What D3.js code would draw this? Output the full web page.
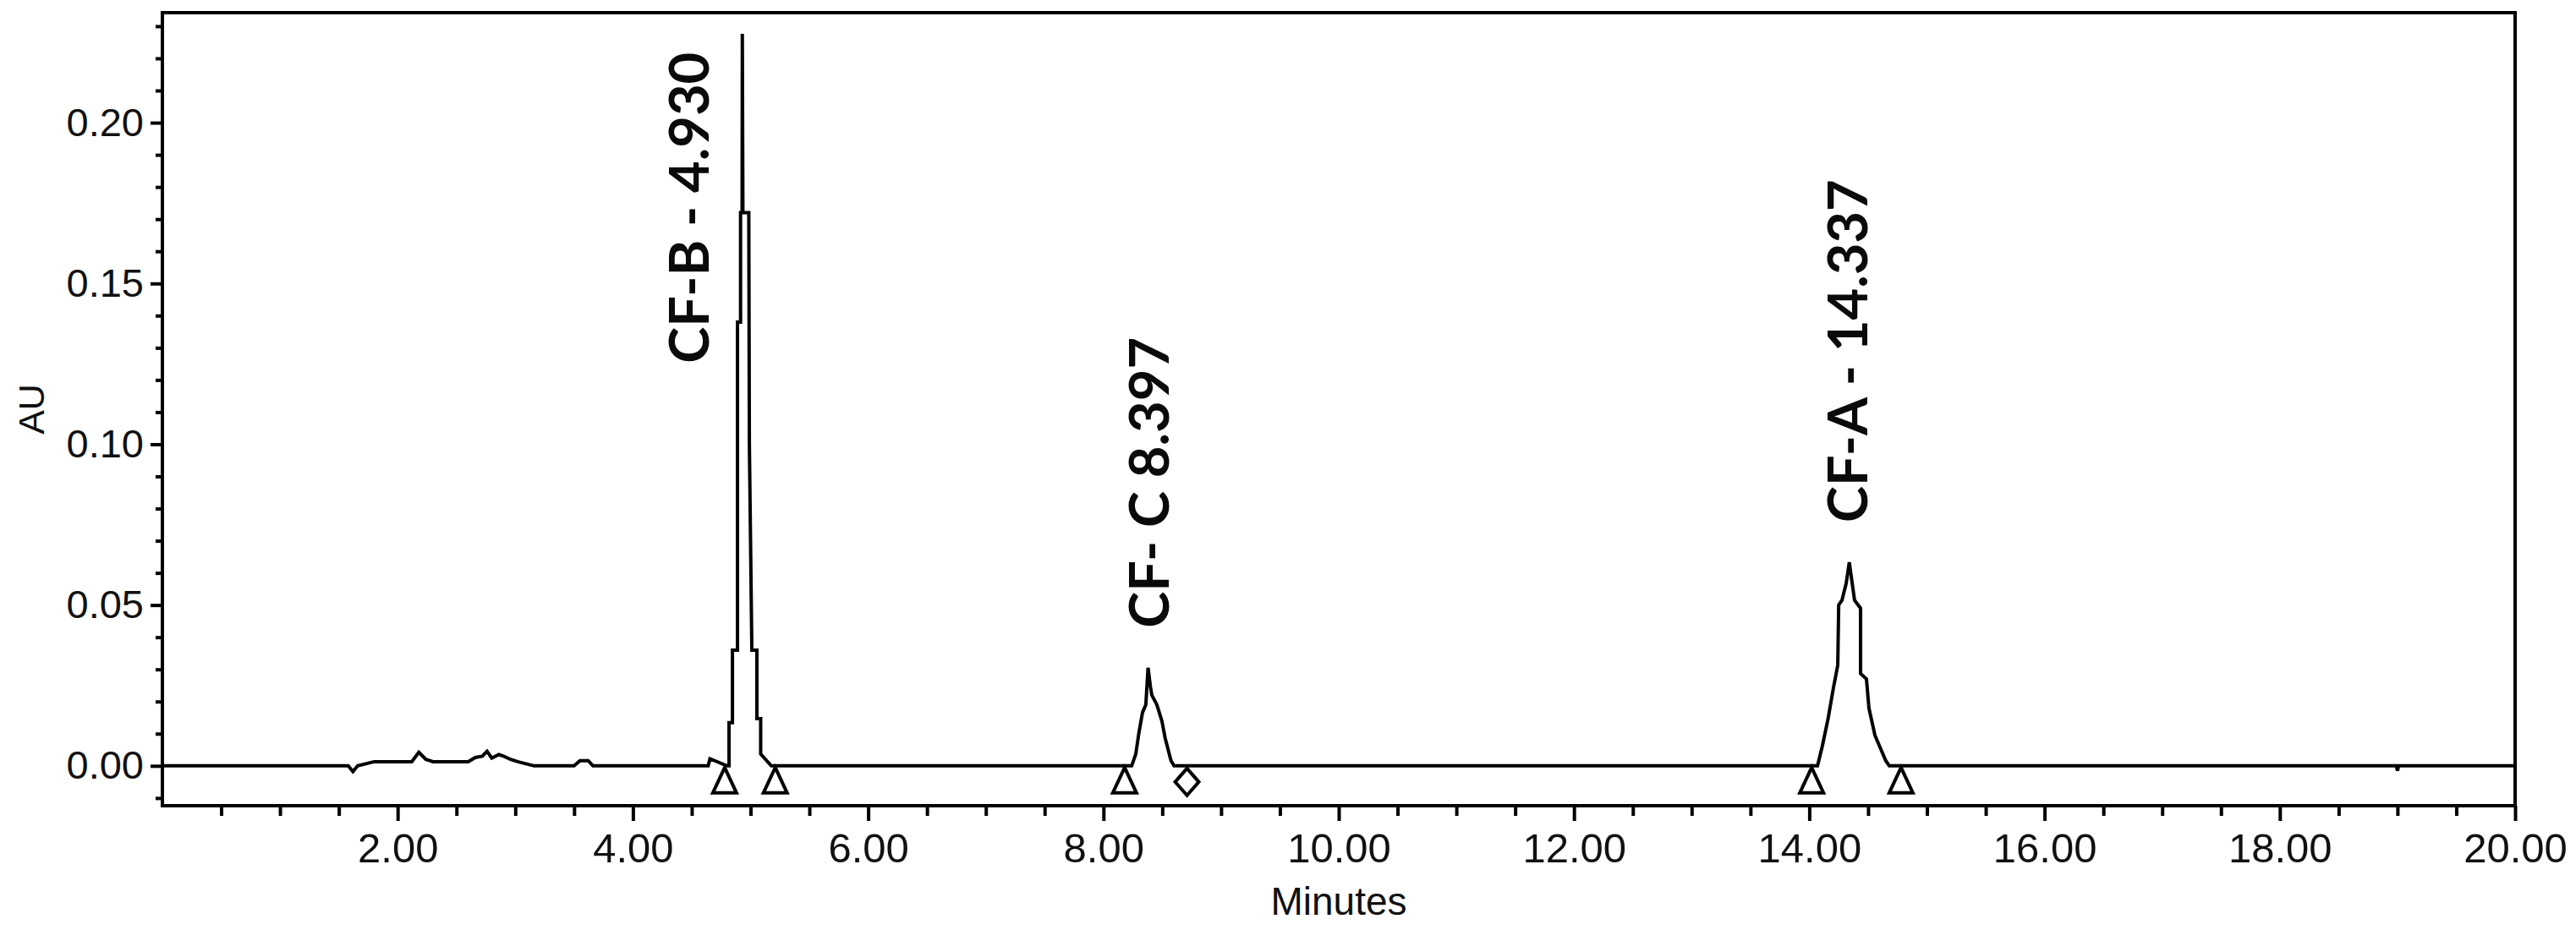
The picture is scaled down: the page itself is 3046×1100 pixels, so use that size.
<!DOCTYPE html>
<html>
<head>
<meta charset="utf-8">
<script src="https://cdn.jsdelivr.net/npm/d3@7"></script>
<style>
  body { margin: 0; background: #fff; }
  svg { display: block; }
</style>
</head>
<body>
<div id="chart"></div>
<script>
// trace (minutes, AU)
var timeMin = [0, 1.58, 1.62, 1.66, 1.80, 2.12, 2.18, 2.24, 2.30, 2.60, 2.66, 2.72, 2.76, 2.80, 2.86, 2.90, 2.96, 3.02, 3.16, 3.50,
  3.55, 3.62, 3.66, 4.64, 4.655, 4.80, 4.817, 4.817, 4.846, 4.846, 4.889, 4.889, 4.915, 4.915, 4.928, 4.93, 4.935, 4.985, 4.99, 5.011,
  5.054, 5.054, 5.086, 5.086, 5.176, 8.24, 8.275, 8.30, 8.332, 8.36, 8.379, 8.40, 8.411, 8.454, 8.497, 8.524, 8.574, 8.60,
  14.07, 14.11, 14.16, 14.206, 14.242, 14.25, 14.278, 14.314, 14.34, 14.36, 14.385, 14.436, 14.436, 14.486, 14.507, 14.558,
  14.65, 14.68, 18.99, 19.00, 19.01, 20.00];
var au = [0, 0, -0.0018, 0, 0.0013, 0.0013, 0.0042, 0.0020, 0.0013, 0.0013, 0.0026, 0.0030, 0.0045, 0.0024, 0.0035, 0.0030, 0.0020, 0.0013, 0, 0,
  0.0016, 0.0016, 0, 0, 0.0022, 0, 0, 0.0134, 0.0134, 0.036, 0.036, 0.138, 0.138, 0.172, 0.172, 0.2276, 0.172, 0.172, 0.10, 0.036,
  0.036, 0.0147, 0.0147, 0.0037, 0, 0, 0.0037, 0.010, 0.0166, 0.019, 0.0305, 0.0244, 0.022, 0.019, 0.0139, 0.0087, 0.0016, 0,
  0, 0.006, 0.0147, 0.0244, 0.0313, 0.0500, 0.0515, 0.0568, 0.0633, 0.058, 0.0515, 0.049, 0.0287, 0.027, 0.018, 0.0095,
  0.0016, 0, 0, -0.0015, 0, 0];

var peakNames = ["CF-B - 4.930", "CF- C 8.397", "CF-A - 14.337"];
var peakTimes = [4.930, 8.397, 14.337];

var markerTimes = [4.78, 5.21, 8.18, 8.71, 14.02, 14.78];
var markerShapes = ["triangle", "triangle", "triangle", "diamond", "triangle", "triangle"];

var xMajor = [2, 4, 6, 8, 10, 12, 14, 16, 18, 20];
var yMajor = [0, 0.05, 0.10, 0.15, 0.20];

drawChart();

function drawChart() {

var W = 3046, H = 1100;
var padL = 192, padR = 2974, padT = 15, padB = 953;

var svg = d3.select("#chart").append("svg")
  .attr("width", W)
  .attr("height", H);

var x = d3.scaleLinear().domain([0, 20]).range([padL, padR]);
var y = d3.scaleLinear().domain([-0.0124, 0.2342]).range([padB, padT]);

var trace = timeMin.map(function(t, i) { return [t, au[i]]; });

// minor ticks
var xMinor = d3.range(0.5, 20, 0.5).filter(function(t) { return t % 2 != 0; });
var yMinor = d3.range(-1, 24).map(function(d) { return d / 100; })
  .filter(function(v) { return Math.abs(v * 20 - Math.round(v * 20)) > 1e-6; });

svg.append("g")
  .attr("transform", "translate(0," + padB + ")")
  .call(d3.axisBottom(x).tickValues(xMinor).tickSize(12).tickFormat(""))
  .call(function(g) { g.select(".domain").remove(); });

svg.append("g")
  .attr("transform", "translate(0," + padB + ")")
  .call(d3.axisBottom(x).tickValues(xMajor).tickSize(18).tickPadding(14).tickFormat(d3.format(".2f")))
  .call(function(g) { g.select(".domain").remove(); })
  .selectAll("text")
  .style("font-family", "'Liberation Sans', Arial, sans-serif")
  .style("font-size", "49px")
  .attr("fill", "#111");

svg.append("g")
  .attr("transform", "translate(" + padL + ",0)")
  .call(d3.axisLeft(y).tickValues(yMinor).tickSize(8).tickFormat(""))
  .call(function(g) { g.select(".domain").remove(); });

svg.append("g")
  .attr("transform", "translate(" + padL + ",0)")
  .call(d3.axisLeft(y).tickValues(yMajor).tickSize(14).tickPadding(8).tickFormat(d3.format(".2f")))
  .call(function(g) { g.select(".domain").remove(); })
  .selectAll("text")
  .style("font-family", "'Liberation Sans', Arial, sans-serif")
  .style("font-size", "47px")
  .attr("fill", "#111");

svg.selectAll(".tick line")
  .attr("stroke", "#000")
  .attr("stroke-width", 4);

// frame
svg.append("rect")
  .attr("x", padL)
  .attr("y", padT)
  .attr("width", padR - padL)
  .attr("height", padB - padT)
  .attr("fill", "none")
  .attr("stroke", "#000")
  .attr("stroke-width", 4);

// the chromatogram
var line = d3.line()
  .x(function(d) { return x(d[0]); })
  .y(function(d) { return y(d[1]); });

svg.append("path")
  .datum(trace)
  .attr("d", line)
  .attr("fill", "none")
  .attr("stroke", "#000")
  .attr("stroke-width", 4)
  .attr("stroke-linejoin", "miter");

// peak start / end markers
function markerPath(shape) {
  var p = d3.path();
  if (shape == "triangle") {
    p.moveTo(0, 0); p.lineTo(-14, 30); p.lineTo(14, 30); p.closePath();
  } else {
    p.moveTo(0, 1); p.lineTo(14, 17); p.lineTo(0, 33); p.lineTo(-14, 17); p.closePath();
  }
  return p.toString();
}

svg.selectAll(".marker")
  .data(markerTimes)
  .enter()
  .append("path")
  .attr("class", "marker")
  .attr("transform", function(t) { return "translate(" + x(t) + "," + (y(0) + 2) + ")"; })
  .attr("d", function(t, i) { return markerPath(markerShapes[i]); })
  .attr("fill", "#fff")
  .attr("stroke", "#000")
  .attr("stroke-width", 4);

// peak labels
function apexOf(rt) {
  var v = 0;
  trace.forEach(function(d) { if (Math.abs(d[0] - rt) < 0.1 && d[1] > v) v = d[1]; });
  return v;
}

svg.selectAll(".peak-label")
  .data(peakTimes)
  .enter()
  .append("text")
  .attr("class", "peak-label")
  .attr("transform", function(rt) {
    var a = apexOf(rt);
    // tall peaks get their label beside the spike, small ones above it
    var tx = a > 0.1 ? x(rt) - 40 : x(rt) + 22;
    var ty = a > 0.1 ? y(a * 0.55) : y(a) - 47;
    return "translate(" + tx + "," + ty + ") rotate(-90)";
  })
  .style("font-family", "Lato, 'Open Sans', sans-serif")
  .style("font-weight", "700")
  .style("font-size", "65px")
  .attr("fill", "#0a0a0a")
  .text(function(rt, i) { return peakNames[i]; });

// axis titles
svg.append("text")
  .attr("x", (padL + padR) / 2)
  .attr("y", 1082)
  .attr("text-anchor", "middle")
  .style("font-family", "'Liberation Sans', Arial, sans-serif")
  .style("font-size", "46px")
  .attr("fill", "#111")
  .text("Minutes");

svg.append("text")
  .attr("transform", "translate(37," + ((padT + padB) / 2) + ") rotate(-90)")
  .attr("text-anchor", "middle")
  .attr("dy", "0.35em")
  .style("font-family", "'Liberation Sans', Arial, sans-serif")
  .style("font-size", "43px")
  .attr("fill", "#111")
  .text("AU");
}
</script>
</body>
</html>
